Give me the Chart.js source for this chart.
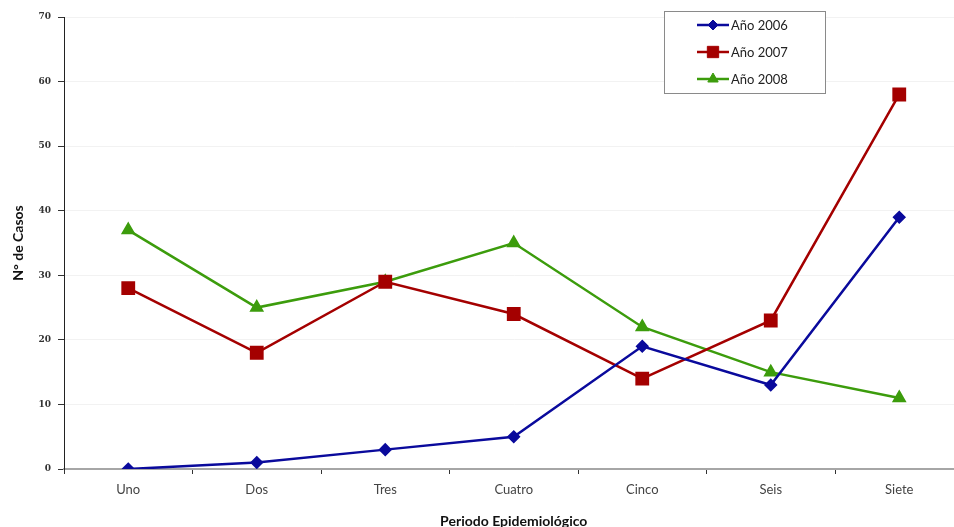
<!DOCTYPE html>
<html>
<head>
<meta charset="utf-8">
<script src="https://cdn.jsdelivr.net/npm/chart.js@4.4.1/dist/chart.umd.min.js"></script>
<style>
  html, body { margin: 0; padding: 0; background: #fff; overflow: hidden; }
  #wrap { width: 954px; height: 527px; overflow: hidden; position: relative; }
  canvas { display: block; }
</style>
</head>
<body>
<div id="wrap"><canvas id="c" width="974" height="540"></canvas></div>
<script>
// Periods and yearly case counts
const periodos = ['Uno', 'Dos', 'Tres', 'Cuatro', 'Cinco', 'Seis', 'Siete'];
const casos2006 = [0, 1, 3, 5, 19, 13, 39];
const casos2007 = [28, 18, 29, 24, 14, 23, 58];
const casos2008 = [37, 25, 29, 35, 22, 15, 11];
const yTicks = [0, 10, 20, 30, 40, 50, 60, 70];

const AZUL = '#0a0a9c';
const ROJO = '#a40000';
const VERDE = '#3c9c0c';

// Boxed legend drawn inside the plot, top right
const boxedLegend = {
  id: 'boxedLegend',
  afterDraw(chart) {
    const ctx = chart.ctx;
    const x0 = 664.5, y0 = 11.5, w = 161, h = 82;
    ctx.save();
    ctx.fillStyle = '#fff';
    ctx.fillRect(x0, y0, w, h);
    ctx.strokeStyle = '#8a8a8a';
    ctx.lineWidth = 1;
    ctx.strokeRect(x0, y0, w, h);
    const rows = [25, 52, 79];
    chart.data.datasets.forEach((ds, i) => {
      const y = rows[i];
      ctx.strokeStyle = ds.borderColor;
      ctx.lineWidth = 2.5;
      ctx.beginPath();
      ctx.moveTo(697, y);
      ctx.lineTo(729, y);
      ctx.stroke();
      ctx.fillStyle = ds.pointBackgroundColor;
      ctx.strokeStyle = ds.pointBorderColor;
      ctx.lineWidth = 1;
      Chart.helpers.drawPoint(ctx, {
        pointStyle: ds.pointStyle,
        radius: ds.pointRadius,
        rotation: 0,
        borderWidth: 1
      }, 713, y);
      ctx.fillStyle = '#222';
      ctx.font = '13px Lato, "Open Sans", sans-serif';
      ctx.textBaseline = 'middle';
      ctx.textAlign = 'left';
      ctx.fillText(ds.label, 731, y + 0.5);
    });
    ctx.restore();
  }
};

function serie(label, data, color, style, radius) {
  return {
    label, data,
    borderColor: color,
    backgroundColor: color,
    pointBackgroundColor: color,
    pointBorderColor: color,
    pointStyle: style,
    pointRadius: radius,
    pointHoverRadius: radius,
    borderWidth: 2.5,
    tension: 0
  };
}

new Chart(document.getElementById('c'), {
  type: 'line',
  data: {
    labels: periodos,
    datasets: [
      serie('Año 2006', casos2006, AZUL, 'rectRot', 5),
      serie('Año 2007', casos2007, ROJO, 'rect', 8),
      serie('Año 2008', casos2008, VERDE, 'triangle', 6)
    ]
  },
  options: {
    responsive: false,
    animation: false,
    devicePixelRatio: 1,
    layout: { padding: { left: 0, right: 1.5, top: 17, bottom: 0 } },
    plugins: {
      legend: { display: false },
      tooltip: { enabled: false }
    },
    scales: {
      x: {
        offset: true,
        grid: {
          offset: true,
          drawOnChartArea: false,
          tickColor: '#333',
          tickLength: 5,
          tickWidth: 1
        },
        border: { color: '#a6a6a6', width: 2 },
        ticks: {
          color: '#444',
          font: { family: 'Lato, "Open Sans", sans-serif', size: 13 },
          padding: 8,
          maxRotation: 0
        },
        title: {
          display: true,
          text: 'Periodo Epidemiológico',
          color: '#111',
          font: { family: 'Lato, "Open Sans", sans-serif', size: 14, weight: 'bold' },
          padding: { top: 0, bottom: 10.6 }
        },
        afterFit(scale) { scale.height = 71; }
      },
      y: {
        min: 0,
        max: 70,
        afterBuildTicks(scale) { scale.ticks = yTicks.map(v => ({ value: v })); },
        grid: {
          color: '#f2f2f2',
          lineWidth: 1,
          tickColor: '#333',
          tickLength: 6,
          drawTicks: true
        },
        border: { color: '#222', width: 1 },
        ticks: {
          color: '#333',
          font: { family: '"DejaVu Serif", "Liberation Serif", serif', size: 9, weight: 'bold' },
          padding: 7
        },
        title: {
          display: true,
          text: 'N° de Casos',
          color: '#111',
          font: { family: 'Lato, "Open Sans", sans-serif', size: 14, weight: 'bold' },
          padding: { top: 9.6, bottom: 0 }
        },
        afterFit(scale) { scale.width = 64; }
      }
    }
  },
  plugins: [boxedLegend]
});
</script>
</body>
</html>
